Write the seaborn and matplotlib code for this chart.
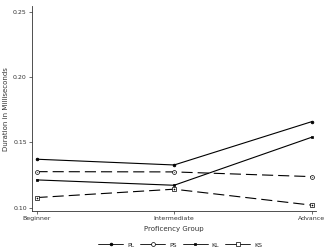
import pandas as pd
import matplotlib
matplotlib.use("Agg")
import matplotlib.pyplot as plt
import seaborn as sns
from matplotlib.lines import Line2D

groups = ["Beginner", "Intermediate", "Advance"]
series = ["PL", "PS", "KL", "KS"]
pl = [0.1372, 0.1328, 0.1659]
ps = [0.1277, 0.1275, 0.1239]
kl = [0.1214, 0.1173, 0.1540]
ks = [0.1079, 0.1143, 0.1021]
yticks = [0.10, 0.15, 0.20, 0.25]

rows = []
for name, vals in zip(series, [pl, ps, kl, ks]):
    for i, (g, v) in enumerate(zip(groups, vals)):
        rows.append({"Group": g, "pos": i, "Series": name, "Duration": v})
df = pd.DataFrame(rows)

sns.set_style("ticks")
plt.rcParams["font.family"] = ["DejaVu Sans"]

fig, ax = plt.subplots(figsize=(3.24, 2.52), dpi=100)
fig.subplots_adjust(left=0.10, right=0.975, top=0.975, bottom=0.163)

dash = (0, (10, 4.5))
styles = {
    "PL": dict(ls="-", marker="o", ms=2.0, mfc="black"),
    "PS": dict(ls=dash, marker="o", ms=2.8, mfc="white"),
    "KL": dict(ls="-", marker="s", ms=1.8, mfc="black"),
    "KS": dict(ls=dash, marker="s", ms=2.8, mfc="white"),
}

for name in series:
    sub = df[df["Series"] == name]
    st = styles[name]
    sns.lineplot(data=sub, x="pos", y="Duration", ax=ax, color="black",
                 linewidth=0.8, linestyle=st["ls"], marker=st["marker"],
                 markersize=st["ms"], markerfacecolor=st["mfc"],
                 markeredgecolor="black", markeredgewidth=0.5)
    if name in ("PS", "KS"):
        sns.scatterplot(x=sub["pos"], y=sub["Duration"], ax=ax, color="black",
                        s=1.0, marker="o" if name == "PS" else "+",
                        linewidth=0.4, zorder=5, legend=False)

ax.set_xlim(-0.03, 2.03)
ax.set_ylim(0.0977, 0.254)
ax.set_xticks(range(len(groups)))
ax.set_xticklabels(groups)
ax.set_yticks(yticks)
ax.set_yticklabels([f"{t:.2f}" for t in yticks])
ax.tick_params(labelsize=4.5, length=2, width=0.5, pad=2, colors="#333333")
ax.set_xlabel("Proficency Group", fontsize=5, color="#333333", labelpad=3)
ax.set_ylabel("Duration in Milliseconds", fontsize=5, color="#333333", labelpad=3)
for side in ["top", "right"]:
    ax.spines[side].set_visible(False)
for side in ["left", "bottom"]:
    ax.spines[side].set_linewidth(0.6)
    ax.spines[side].set_color("#333333")

handles = []
for name in series:
    st = styles[name]
    handles.append(Line2D([0], [0], color="black", linewidth=0.6, linestyle="-",
                          marker=st["marker"], markersize=st["ms"],
                          markerfacecolor=st["mfc"], markeredgecolor="black",
                          markeredgewidth=0.5))
fig.legend(handles, series, loc="lower center", bbox_to_anchor=(0.556, -0.005),
           ncol=4, frameon=False, fontsize=4.5, handlelength=4.0,
           columnspacing=1.0, handletextpad=0.6)

fig.savefig("out.png", dpi=100)
